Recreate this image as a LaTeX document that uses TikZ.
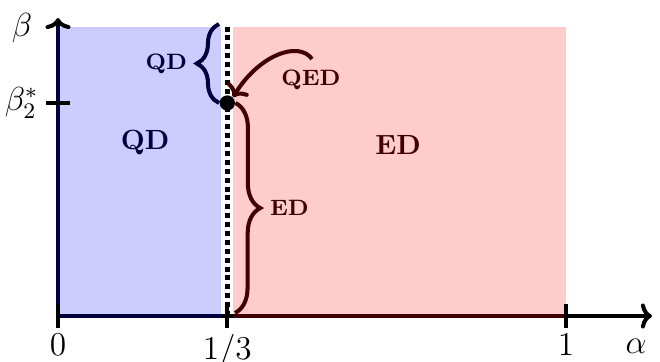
\documentclass[tikz,border=0pt]{standalone}
\usetikzlibrary{arrows.meta,decorations.pathreplacing}

\colorlet{qdcol}{blue!25!black}
\colorlet{edcol}{red!25!black}

\begin{document}
\begin{tikzpicture}[x=0.36pt, y=0.36pt, >={To[length=4pt,width=9pt]},
  axis/.style={line width=1.45pt},
  axislbl/.style={font=\large},
  region/.style={font=\bfseries},
  bracelbl/.style={font=\footnotesize\bfseries},
  curly/.style={decorate, decoration={brace, amplitude=#1}, line width=1.45pt},
  curly/.default=8pt]
  \useasboundingbox (-58,-46) rectangle (602,316);
  % the two phases
  \fill[blue!20] (0,0) rectangle (163,289);
  \fill[red!20] (175,0) rectangle (508,289);
  % axes
  \draw[axis,->] (0,0) -- (0,298);
  \draw[axis,->] (0,0) -- (594,0);
  \draw[axis,qdcol] (0,289) -- (0,0) -- (163,0);
  \draw[axis,edcol] (175,0) -- (508,0);
  \foreach \x/\lbl [count=\i] in {0/{$0$}, 169.3/{$1/3$}, 508/{$1$}}
    \draw[axis] (\x,12) -- (\x,-12) node[below, axislbl, inner sep=1.5pt] (tick\i) {\lbl};
  \draw[axis] (-12,213) -- (12,213) node[pos=0, left, axislbl, inner sep=2pt] (bstar) {$\beta_2^*$};
  \node[axislbl] (blbl) at (-36,288) {$\beta$};
  \node[axislbl] (albl) at (578,-30) {$\alpha$};
  % boundary at alpha = 1/3
  \draw[line width=1.8pt, dash pattern=on 1.8pt off 1.4pt] (169.3,0) -- (169.3,291);
  \node[circle, fill, inner sep=0pt, minimum size=5.5pt] (crit) at (169.3,213) {};
  \node[region, qdcol] (qdzone) at (87,173) {QD};
  \node[region, edcol] (edzone) at (340,171) {ED};
  % braces
  \coordinate (qdtop) at (161,292);
  \coordinate (edbot) at (177,3);
  \draw[curly, qdcol] (crit.west) -- (qdtop)
    node[midway, left=7.5pt, bracelbl] (qdlbl) {QD};
  \draw[curly=9pt, edcol] (crit.east) -- (edbot)
    node[midway, right=8.5pt, bracelbl] (edlbl) {ED};
  % critical point
  \node[bracelbl, edcol] (qedlbl) at (253,236) {QED};
  \coordinate (qedstart) at (254,257);
  \draw[->, edcol, line width=1.45pt] (qedstart) .. controls (240,276) and (200,260) .. (crit.north east);
\end{tikzpicture}
\end{document}
